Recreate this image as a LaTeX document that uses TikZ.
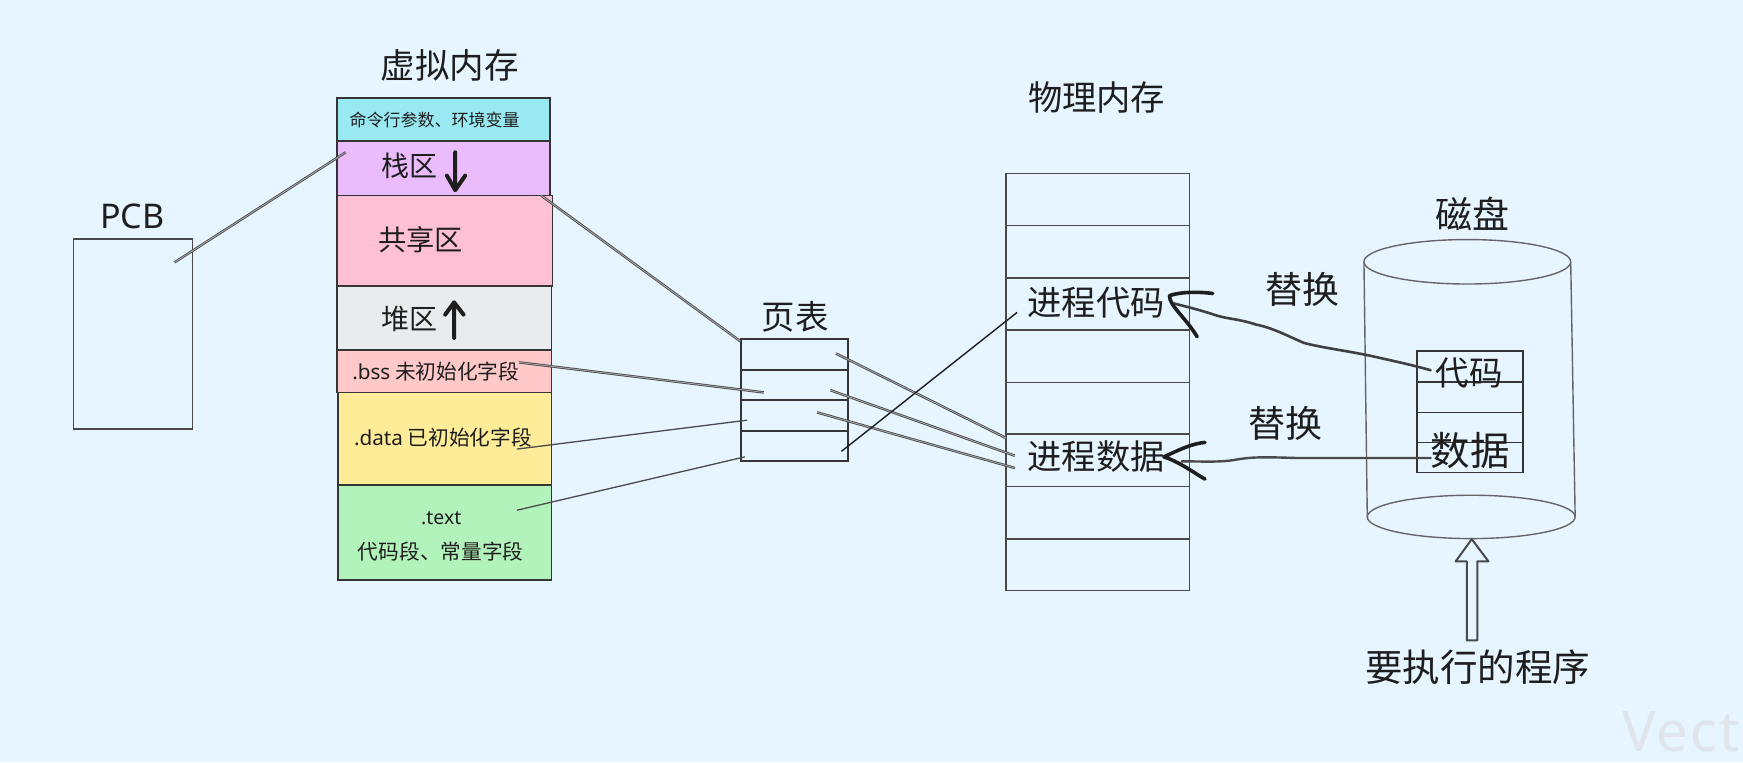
\documentclass[tikz,border=0pt]{standalone}
\usepackage{fontspec}
\usetikzlibrary{shapes.geometric}
\setmainfont{Noto Sans}
\newfontfamily\cjk{Noto Sans CJK SC}
\newfontfamily\wmfont[LetterSpace=4]{Noto Sans}
\definecolor{bgc}{HTML}{E6F5FF}
\definecolor{ink}{HTML}{1E1E1E}
\definecolor{gline}{HTML}{4A4A4A}
\definecolor{wm}{HTML}{DFE5EA}
\definecolor{c1}{HTML}{99E9F2}
\definecolor{c2}{HTML}{EBBCFC}
\definecolor{c3}{HTML}{FFC0D6}
\definecolor{c4}{HTML}{E9ECEF}
\definecolor{c5}{HTML}{FFC9C9}
\definecolor{c6}{HTML}{FFEC99}
\definecolor{c7}{HTML}{B2F2BB}
\tikzset{
  cellb/.style={draw=ink!90!white,line width=1.7pt,inner sep=0pt,outer sep=0pt},
  thincell/.style={draw=gline,line width=1.4pt,inner sep=0pt,outer sep=0pt},
  lbl/.style={text=ink,inner sep=0pt,font=\fontsize{#1}{#1}\selectfont\cjk},
  lat/.style={text=ink,inner sep=0pt,font=\fontsize{#1}{#1}\selectfont},
  dbl/.style={draw=gline,line width=.85pt,double=gray!65!white,double distance=.8pt},
  sgl/.style={draw=gline,line width=1.3pt},
  hand/.style={draw=ink,line width=#1,line cap=round,line join=round},
  cyl/.style={draw=gline!85!white,line width=1.4pt},
  cylcap/.style={cyl,ellipse,inner sep=0pt,outer sep=0pt},
}
\newcommand{\cellbox}[6]{\node[#6,minimum width={(#4-#2)*1.1116pt},minimum height={(#5-#3)*1.1116pt}] (#1) at ({(#2+#4)/2},{(#3+#5)/2}) {};}
\begin{document}
\begin{tikzpicture}[x=1.1116pt,y=-1.1116pt]
\useasboundingbox (0,0) rectangle (1568,685.5);
\fill[bgc] (0,0) rectangle (1568,685.5);
\node[anchor=base west,inner sep=0pt,text=wm,font=\fontsize{56}{56}\selectfont\wmfont] (wmark) at (1459,676) {Vect};

% PCB
\cellbox{pcb}{66}{215}{173}{386}{thincell}
\node[lat=34] (pcbt) at (119,195) {PCB};

% virtual memory
\node[lbl=34.5] (vmt) at (404.5,59) {虚拟内存};
\cellbox{vm1}{303}{88}{495}{127}{cellb,fill=c1}
\cellbox{vm2}{303}{127}{495}{176}{cellb,fill=c2}
\cellbox{vm3}{303}{176}{497}{257}{cellb,fill=c3}
\cellbox{vm4}{303}{257}{496}{315}{cellb,fill=c4}
\cellbox{vm5}{303}{315}{496}{353}{cellb,fill=c5}
\cellbox{vm6}{304}{353}{496}{436}{cellb,fill=c6}
\cellbox{vm7}{304}{436}{496}{522}{cellb,fill=c7}
\node[lbl=17] (l1) at (391,108) {命令行参数、环境变量};
\node[lbl=28] (l2) at (368.5,149) {栈区};
\node[lbl=28.3] (l3) at (378.5,216) {共享区};
\node[lbl=28] (l4) at (368.5,287) {堆区};
\node[lbl=20.7] (l5) at (392,334.5) {{\rmfamily .bss} 未初始化字段};
\node[lbl=20.7] (l6) at (398.5,393.5) {{\rmfamily .data} 已初始化字段};
\node[lat=19.5] (l7) at (397,466) {.text};
\node[lbl=20.7] (l8) at (396.5,496) {代码段、常量字段};
\coordinate (da1) at (409.5,137); \coordinate (da2) at (409.5,171);
\coordinate (dal) at (402,158); \coordinate (dar) at (418.5,158);
\draw[hand=4pt] (da1) -- (da2) (dal) -- (da2) -- (dar);
\coordinate (ua1) at (408.5,304); \coordinate (ua2) at (408.5,272);
\coordinate (ual) at (400.5,283); \coordinate (uar) at (417,283);
\draw[hand=4pt] (ua1) -- (ua2) (ual) -- (ua2) -- (uar);

% page table
\node[lbl=33.5] (ptt) at (715.5,285) {页表};
\cellbox{pt1}{667}{305}{763}{332.5}{cellb,line width=2pt}
\cellbox{pt2}{667}{332.5}{763}{360}{cellb,line width=2pt}
\cellbox{pt3}{667}{360}{763}{388}{cellb,line width=2pt}
\cellbox{pt4}{667}{388}{763}{415}{cellb,line width=2pt}

% physical memory
\node[lbl=34.3] (pmt) at (986.5,88) {物理内存};
\cellbox{pm1}{905}{156}{1070}{203}{thincell}
\cellbox{pm2}{905}{203}{1070}{250}{thincell}
\cellbox{pm3}{905}{250}{1070}{297}{thincell}
\cellbox{pm4}{905}{297}{1070}{344}{thincell}
\cellbox{pm5}{905}{344}{1070}{390.5}{thincell}
\cellbox{pm6}{905}{390.5}{1070}{437.5}{thincell}
\cellbox{pm7}{905}{437.5}{1070}{485}{thincell}
\cellbox{pm8}{905}{485}{1070}{531}{thincell}
\node[lbl=34.3] (pc) at (986,272.5) {进程代码};
\node[lbl=34.3] (pd) at (986,410.5) {进程数据};

% disk
\node[lbl=37] (dt) at (1325,192.5) {磁盘};
\node[cylcap,minimum width={186*1.1116pt},minimum height={40*1.1116pt}] (captop) at (1320,235.5) {};
\node[cylcap,minimum width={187*1.1116pt},minimum height={39*1.1116pt}] (capbot) at (1323.5,465) {};
\draw[cyl] (captop.west) -- (capbot.west);
\draw[cyl] (captop.east) -- (capbot.east);
\cellbox{db1}{1275}{316}{1370}{343.5}{cellb}
\cellbox{db2}{1275}{343.5}{1370}{371}{cellb}
\cellbox{db3}{1275}{371}{1370}{398}{cellb}
\cellbox{db4}{1275}{398}{1370}{425}{cellb}
\node[lbl=33.5] (dcode) at (1321.5,335.5) {代码};
\node[lbl=39.5] (ddata) at (1322.5,405) {数据};

% labels
\node[lbl=37] (sw1) at (1172,260.5) {替换};
\node[lbl=37] (sw2) at (1156,380.5) {替换};
\node[lbl=37.5] (prog) at (1329.5,600.5) {要执行的程序};

% upload arrow
\coordinate (up1) at (1319.5,576); \coordinate (up2) at (1319.5,505);
\coordinate (up3) at (1309.5,505); \coordinate (up4) at (1324,485);
\coordinate (up5) at (1339,505); \coordinate (up6) at (1329,505);
\coordinate (up7) at (1329,576);
\draw[draw=gline,line width=2pt,line join=round] (up1) -- (up2) -- (up3) -- (up4) -- (up5) -- (up6) -- (up7) -- cycle;

% connectors
\coordinate (a1) at (157,236); \coordinate (a2) at (311,137);
\coordinate (b1) at (487,176); \coordinate (b2) at (666,307);
\coordinate (c1p) at (467,326); \coordinate (c2p) at (687,353);
\coordinate (d1) at (465,404); \coordinate (d2) at (672,378);
\coordinate (e1) at (465,459); \coordinate (e2) at (670,411);
\coordinate (f1) at (752,318); \coordinate (f2) at (905,394);
\coordinate (g1) at (747,351); \coordinate (g2) at (913,410);
\coordinate (h1) at (735,371); \coordinate (h2) at (913,421);
\coordinate (i1) at (757,406); \coordinate (i2) at (915,281);
\draw[dbl] (a1) -- (a2);
\draw[dbl] (b1) -- (b2);
\draw[dbl] (c1p) -- (c2p);
\draw[sgl] (d1) -- (d2);
\draw[sgl] (e1) -- (e2);
\draw[dbl] (f1) -- (f2);
\draw[dbl] (g1) -- (g2);
\draw[dbl] (h1) -- (h2);
\draw[draw=ink,line width=1.4pt] (i1) -- (i2);

% hand-drawn arrows
\coordinate (j1) at (1287,333); \coordinate (j2) at (1056,273);
\draw[hand=2.6pt,draw=ink!85!white] (j1) .. controls (1265,327) and (1250,324) .. (1237,321)
  .. controls (1215,316) and (1190,313) .. (1173,308.5)
  .. controls (1158,302) and (1145,295) .. (1130,292)
  .. controls (1115,287) and (1105,287) .. (1095,284)
  .. controls (1080,279) and (1068,276) .. (j2);
\coordinate (j3) at (1091,264); \coordinate (j4) at (1052,266); \coordinate (j5) at (1077,303);
\draw[hand=3.6pt] (j3) .. controls (1075,262) and (1060,263) .. (j4) .. controls (1052,275) and (1066,285) .. (j5);
\coordinate (k1) at (1287,412); \coordinate (k2) at (1063,415);
\draw[draw=gline,line width=2.4pt,line cap=round] (k1) -- (1166,412) .. controls (1135,411) and (1125,411) .. (1109,414) .. controls (1095,416) and (1080,415) .. (k2);
\coordinate (k3) at (1084,398); \coordinate (k4) at (1047,411); \coordinate (k5) at (1084,431);
\draw[hand=3.6pt] (k3) .. controls (1072,399) and (1060,405) .. (k4) .. controls (1060,415) and (1072,424) .. (k5);
\end{tikzpicture}
\end{document}
